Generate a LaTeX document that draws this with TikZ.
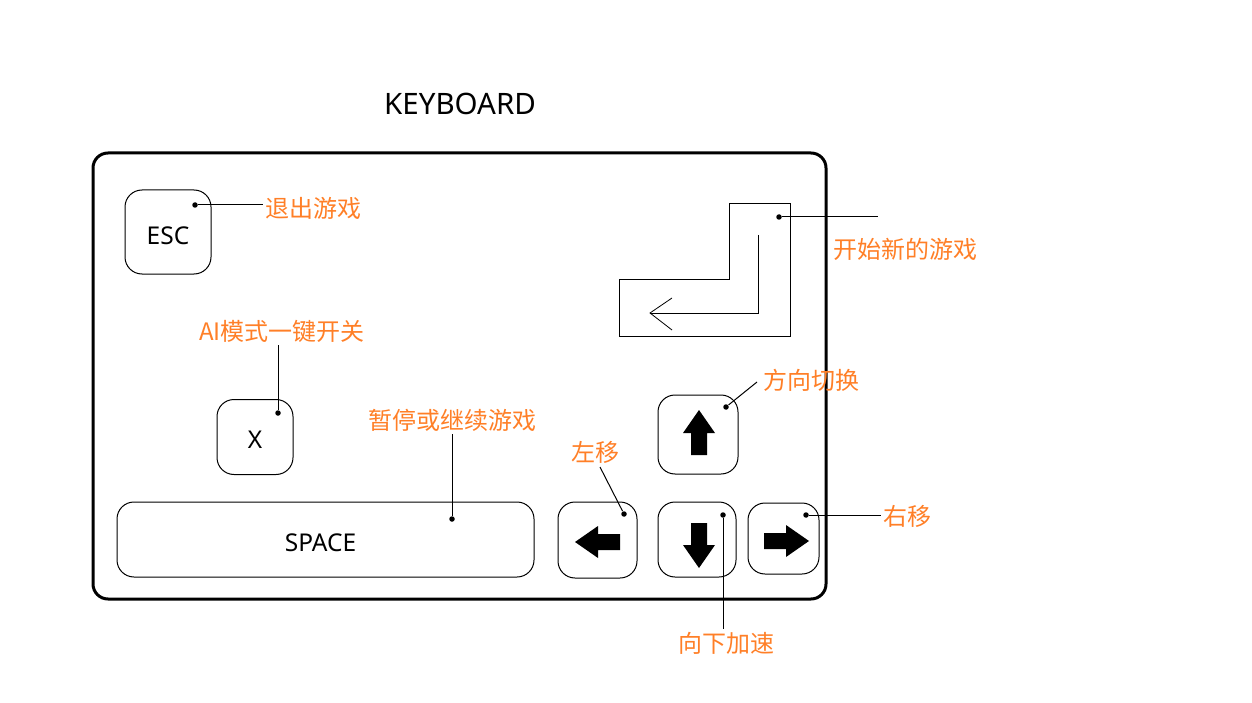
\documentclass[tikz,border=0pt]{standalone}
\usepackage{fontspec}
\setmainfont{Noto Sans}
\newfontfamily\cjk{Noto Sans CJK SC}
\definecolor{paintorange}{RGB}{255,127,39}
\begin{document}
\begin{tikzpicture}[x=1pt, y=-1pt, line width=1pt,
		key/.style={draw, rounded corners=17pt, inner sep=0pt},
		keytxt/.style={inner sep=0pt, font=\fontsize{24.5}{28}\selectfont},
		dot/.style={circle, fill, inner sep=0pt, minimum size=5.5pt},
		lbl/.style={text=paintorange, inner sep=2pt, font=\cjk\fontsize{24}{28}\selectfont}]
		\useasboundingbox (0,0) rectangle (1252,703);
		%title and frame
		\node (title) at (460,104) {\fontsize{29.5}{32}\selectfont KEYBOARD};
		\draw[line width=3pt, rounded corners=15pt] (93,153) rectangle (826,599);
		
		%keys
		\node[key, minimum width=86pt, minimum height=84pt] (esc) at (168,232) {};
		\node[key, minimum width=76pt, minimum height=75pt] (x) at (255,437) {};
		\node[key, minimum width=417pt, minimum height=75pt] (space) at (325.5,539.5) {};
		\node[key, minimum width=80pt, minimum height=79pt] (up) at (698,434.5) {};
		\node[key, minimum width=79pt, minimum height=76pt] (left) at (597.5,540) {};
		\node[key, minimum width=78pt, minimum height=75pt] (down) at (697,539.5) {};
		\node[key, minimum width=71pt, minimum height=71pt] (right) at (783.5,538.5) {};
		\node[keytxt] (esctxt) at ([yshift=-4pt]esc.center) {ESC};
		\node[keytxt] (xtxt) at ([yshift=-3pt]x.center) {X};
		\node[keytxt] (spacetxt) at ([xshift=-5pt, yshift=-3.5pt]space.center) {SPACE};
		\foreach \cx/\cy/\ang in {699/433/90, 598/542/180, 699/545/270, 786/541/0}{
			\fill[shift={(\cx,\cy)}, rotate=\ang] (23,0) -- (0,16) -- (0,8) -- (-22,8) -- (-22,-8) -- (0,-8) -- (0,-16) -- cycle;
		}
		
		%new game sign
		\draw (729,204) -- (790,204) -- (790,336) -- (619,336) -- (619,279) -- (729,279) -- cycle;
		\draw (758,235) -- (758,313) -- (650,313);
		\draw[line width=0.8pt] (672,298) -- (650,313) -- (672,330);
		
		%dots
		\node[dot] (escdot) at (195,205){};
		\node[dot] (xdot) at (278,413){};
		\node[dot] (spacedot) at (452,519){};
		\node[dot] (newdot) at (779,217){};
		\node[dot] (updot) at (726,407){};
		\node[dot] (leftdot) at (624,514){};
		\node[dot] (downdot) at (723,515){};
		\node[dot] (rightdot) at (806,515){};
		
		%labels
		\node[lbl, anchor=west] (esclbl) at (263,208){退出游戏};
		\node[lbl] (ailbl) at (282,331){AI模式一键开关};
		\node[lbl] (spacelbl) at (452,420){暂停或继续游戏};
		\node[lbl, anchor=west] (newlbl) at (831,249){开始新的游戏};
		\node[lbl, anchor=west] (uplbl) at (761,380){方向切换};
		\node[lbl] (leftlbl) at (595,452){左移};
		\node[lbl] (downlbl) at (726,643){向下加速};
		\node[lbl, anchor=west] (rightlbl) at (881,516){右移};
		\coordinate (newend) at (878,217);
		\coordinate (upend) at (757,382);
		\coordinate (leftend) at (600,467);
		
		%pointers
		\draw (escdot) -- (escdot -| esclbl.west);
		\draw (xdot) -- (xdot |- ailbl.south);
		\draw (spacedot) -- (spacedot |- spacelbl.south);
		\draw (newdot) -- (newend);
		\draw (updot) -- (upend);
		\draw (leftdot) -- (leftend);
		\draw (downdot) -- (downdot |- downlbl.north);
		\draw (rightdot) -- (rightdot -| rightlbl.west);
		\end{tikzpicture}
\end{document}
